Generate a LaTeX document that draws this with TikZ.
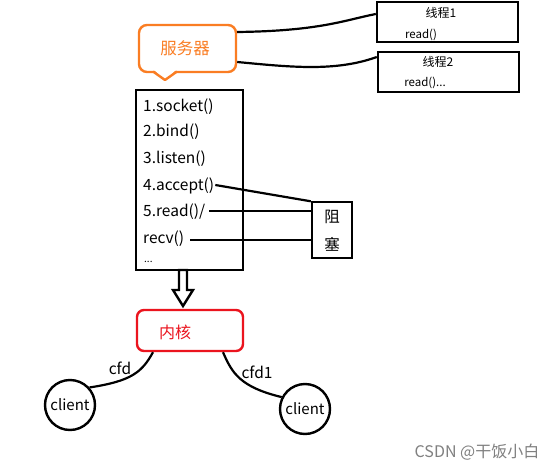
\documentclass[tikz,border=0pt]{standalone}
\usepackage{fontspec}
\setmainfont{Noto Sans CJK SC}
\usetikzlibrary{calc}
\definecolor{srvorange}{RGB}{250,125,35}
\definecolor{kred}{RGB}{235,20,30}
\begin{document}
\begin{tikzpicture}[x=1pt,y=-1pt,
  box/.style={draw=black,line width=2.4pt,minimum width=#1,inner sep=0pt},
  txt/.style={inner sep=0pt,anchor=west,font=\fontsize{15.5}{17}\selectfont},
  small/.style={inner sep=0pt,font=\fontsize{11.5}{13}\selectfont},
  conn/.style={line width=2.2pt,black},
  cli/.style={circle,draw=black,line width=2.4pt,minimum size=50pt,inner sep=0pt,font=\fontsize{15}{17}\selectfont}]
\useasboundingbox[fill=white] (0,0) rectangle (559,473);
% server bubble
\node[draw=srvorange,line width=2.4pt,rounded corners=8pt,minimum width=97pt,minimum height=47pt,inner sep=0pt] (srv) at (187.5,48.5) {};
\fill[white] (154,70) -- (165,80) -- (176,70) -- cycle;
\draw[srvorange,line width=2.4pt,line join=round] (153,71.5) -- (165,80) -- (177,71.5);
\node[text=srvorange,inner sep=0pt,font=\fontsize{16.5}{18}\selectfont] (srvt) at (185,48) {服务器};
% thread boxes
\node[box=141pt,minimum height=40pt] (t1) at (447.5,22) {};
\node[small,font=\fontsize{12}{13}\selectfont] (t1a) at (441,13) {线程1};
\node[small] (t1b) at (421,35) {read()};
\node[box=141pt,minimum height=40pt] (t2) at (448.5,72) {};
\node[small,font=\fontsize{12}{13}\selectfont] (t2a) at (438,62) {线程2};
\node[small] (t2b) at (425,83) {read()...};
\draw[conn] ([yshift=16.5pt]srv.east) .. controls (320,31) and (345,20) .. ([yshift=8pt]t1.west);
\draw[conn] ([yshift=-13.5pt]srv.east) .. controls (290,67) and (335,72) .. ([yshift=15pt]t2.west);
% main box
\node[box=107pt,minimum height=180pt] (mb) at (189.5,180) {};
\node[txt] (s1) at (143,107) {1.socket()};
\node[txt] (s2) at (143,132) {2.bind()};
\node[txt] (s3) at (143,159) {3.listen()};
\node[txt] (s4) at (143,186) {4.accept()};
\node[txt] (s5) at (143,212) {5.read()/};
\node[txt] (s6) at (143,239) {recv()};
\node[txt,font=\fontsize{10}{11}\selectfont] (s7) at (144,262) {...};
% block box
\node[box=40pt,minimum height=56pt] (zs) at (332,230) {};
\node[inner sep=0pt,font=\fontsize{15.5}{17}\selectfont] (z1) at (332,217) {阻};
\node[inner sep=0pt,font=\fontsize{15.5}{17}\selectfont] (z2) at (332,244) {塞};
\draw[conn] ([xshift=1pt,yshift=1pt]s4.east) -- ([yshift=-0.5pt]zs.north west);
\draw[conn] ([xshift=4pt,yshift=1pt]s5.east) -- ([yshift=1pt]s5.east -| zs.west);
\draw[conn] ([xshift=6pt,yshift=-1pt]s6.east) -- ([yshift=-1pt]s6.east -| zs.west);
% hollow arrow
\draw[line width=2.4pt,line join=miter,fill=white] (179,270) -- (187,270) -- (187,290) -- (193,290) -- (183,306) -- (173,290) -- (179,290) -- cycle;
% kernel
\node[draw=kred,line width=2.4pt,rounded corners=7pt,minimum width=106pt,minimum height=41pt,inner sep=0pt] (kern) at (190,330.5) {};
\node[text=kred,inner sep=0pt,font=\fontsize{16}{18}\selectfont] (kt) at (175,332) {内核};
% clients
\node[cli] (c1) at (70,405) {client};
\node[cli] (c2) at (305,409) {client};
\draw[conn] ([xshift=-37pt]kern.south) .. controls (142,372) and (132,381) .. (c1.42);
\draw[conn] ([xshift=33pt]kern.south) .. controls (232,373) and (240,387) .. (c2.153);
\node[inner sep=0pt,font=\fontsize{15.5}{17}\selectfont] (l1) at (120,368) {cfd};
\node[inner sep=0pt,font=\fontsize{15.5}{17}\selectfont] (l2) at (257,372) {cfd1};
% watermark
\node[text=gray,inner sep=0pt,font=\fontsize{16}{18}\selectfont] (wm) at (477,452) {CSDN @干饭小白};
\end{tikzpicture}
\end{document}
